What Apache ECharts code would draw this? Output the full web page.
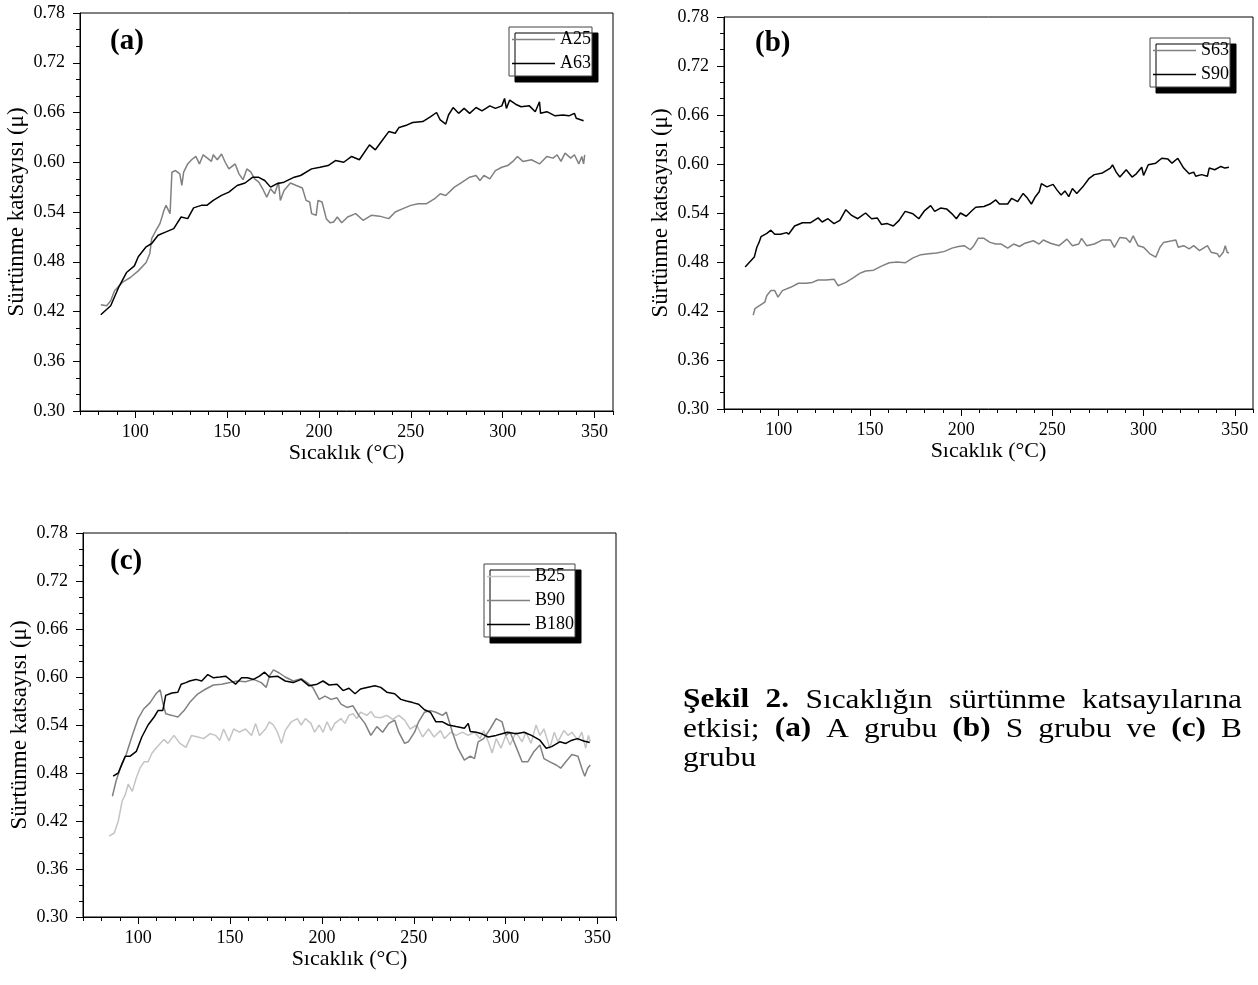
<!DOCTYPE html>
<html>
<head>
<meta charset="utf-8">
<script src="https://cdn.jsdelivr.net/npm/echarts@6/dist/echarts.min.js"></script>
<style>html,body{margin:0;padding:0;background:#fff}#c{width:1258px;height:985px}</style>
</head>
<body>
<div id="c"></div>
<script>
// ---- tick labels / axis ranges ----
const xMajorTicks = [100, 150, 200, 250, 300, 350];
const yTickStep = 0.06;
const xTitle = 'Sıcaklık (°C)';
const yTitle = 'Sürtünme katsayısı (μ)';
const panelLabels = ['(a)', '(b)', '(c)'];

// ---- panel (a) ----
const a25 = [[81.3,0.428],[84.5,0.427],[86.7,0.433],[88.8,0.445],[93,0.455],[97.4,0.461],[101.7,0.469],[106,0.479],[108,0.490],[109,0.508],[111.4,0.518],[113.5,0.526],[115.7,0.542],[116.8,0.548],[119,0.538],[120,0.588],[122,0.590],[124.3,0.586],[125.4,0.572],[126.4,0.588],[128.6,0.598],[130.7,0.603],[133,0.607],[135,0.598],[137,0.609],[139.3,0.605],[141.5,0.601],[142.5,0.609],[144.7,0.603],[147,0.610],[149,0.600],[151,0.592],[154.4,0.598],[156.5,0.586],[158.7,0.579],[160.8,0.592],[163,0.588],[165,0.580],[167.3,0.576],[169.4,0.568],[171.6,0.558],[173.7,0.568],[175.9,0.562],[178,0.576],[179,0.554],[181,0.566],[184.5,0.575],[187.7,0.572],[191,0.569],[193,0.554],[195,0.552],[196,0.538],[198.5,0.536],[199.5,0.554],[201.7,0.552],[204,0.532],[206,0.527],[208,0.528],[210,0.534],[212.4,0.527],[215.6,0.534],[220,0.538],[224,0.530],[228.5,0.536],[233,0.535],[238,0.532],[241.5,0.540],[245.7,0.544],[250,0.548],[254,0.550],[258.6,0.550],[263,0.556],[266,0.562],[269,0.560],[273.7,0.570],[278,0.576],[282,0.582],[285.5,0.584],[287.6,0.578],[289.8,0.584],[293,0.580],[296,0.590],[299.5,0.594],[302.7,0.596],[306,0.602],[308,0.607],[311,0.601],[315.6,0.603],[320,0.598],[324,0.607],[327.4,0.605],[329.6,0.609],[331.7,0.601],[333.9,0.611],[337,0.605],[339,0.609],[341.4,0.598],[343,0.607],[344,0.598],[344.6,0.609]];
const a63 = [[81.3,0.416],[86.7,0.427],[91,0.449],[95.3,0.467],[99.6,0.475],[101.7,0.486],[106,0.498],[109,0.502],[112.5,0.512],[116.8,0.516],[121,0.520],[125,0.534],[128.6,0.532],[131.8,0.545],[136,0.548],[139,0.548],[142.5,0.554],[147,0.560],[151,0.564],[155.5,0.572],[159.8,0.575],[164,0.582],[167,0.582],[170.5,0.578],[173.7,0.570],[177,0.574],[181,0.576],[186.6,0.582],[190,0.584],[196,0.592],[200.6,0.594],[205,0.596],[209,0.602],[213.5,0.600],[217.8,0.607],[222,0.603],[227.5,0.621],[230.7,0.615],[234,0.625],[238,0.637],[241.5,0.635],[243.6,0.642],[248,0.645],[251,0.648],[256.5,0.649],[260.8,0.655],[264,0.660],[266,0.651],[269,0.646],[270.5,0.657],[273,0.666],[276,0.659],[279,0.665],[282,0.659],[285.5,0.666],[288.7,0.662],[293,0.668],[296,0.665],[299.5,0.668],[301,0.677],[302,0.665],[303.8,0.675],[307,0.670],[310,0.667],[314.5,0.668],[317.7,0.661],[320,0.673],[320.6,0.659],[324,0.661],[328.5,0.656],[332.8,0.657],[336,0.656],[339,0.659],[340,0.653],[344,0.650]];

// ---- panel (b) ----
const s63 = [[86,0.415],[87,0.423],[89,0.426],[92.4,0.431],[93.5,0.439],[95.7,0.445],[97.8,0.445],[99.6,0.437],[102,0.445],[106.5,0.449],[110.8,0.454],[115,0.454],[118.4,0.455],[121.6,0.458],[126,0.458],[130.3,0.459],[132.5,0.451],[136.8,0.455],[141,0.461],[144.4,0.466],[147.6,0.469],[152,0.470],[156.3,0.475],[160.6,0.479],[165,0.480],[169.3,0.479],[173.6,0.485],[178,0.489],[182.2,0.490],[186.6,0.491],[190.9,0.493],[195,0.497],[198.5,0.499],[201.7,0.500],[205,0.495],[207,0.500],[209.3,0.509],[212.5,0.509],[215.8,0.504],[219,0.502],[222,0.502],[225.5,0.497],[228.8,0.502],[232,0.499],[235,0.503],[239.6,0.506],[242.8,0.502],[245,0.507],[249,0.503],[253.7,0.500],[258,0.508],[261,0.500],[264.5,0.502],[266,0.509],[268.8,0.500],[273,0.502],[277.5,0.507],[281.8,0.507],[284,0.498],[287,0.510],[290.5,0.509],[292.6,0.504],[294.3,0.512],[297,0.500],[300,0.498],[303.5,0.490],[306.7,0.486],[309,0.498],[311,0.504],[315.6,0.506],[317.7,0.507],[319,0.498],[322,0.500],[325,0.496],[327.5,0.500],[330.7,0.494],[335,0.500],[337,0.492],[340.5,0.490],[341.6,0.486],[343.7,0.492],[344.8,0.500],[345.8,0.492],[346.8,0.491]];
const s90 = [[81.6,0.474],[86.6,0.486],[88,0.498],[89.2,0.504],[90.3,0.511],[93.5,0.515],[95.7,0.519],[97.8,0.514],[101,0.514],[104.3,0.516],[105.4,0.514],[108.7,0.524],[113,0.528],[117.3,0.528],[121.6,0.534],[123.8,0.529],[127,0.533],[130.3,0.527],[133.5,0.531],[136.8,0.544],[140,0.537],[143.3,0.533],[147.6,0.540],[150.9,0.533],[154,0.534],[156.3,0.526],[159.5,0.527],[162.8,0.524],[166,0.531],[169.3,0.542],[173.6,0.539],[176.8,0.533],[180,0.543],[183.3,0.549],[185.5,0.542],[188.7,0.546],[192,0.545],[195,0.539],[197.4,0.533],[199.6,0.540],[202.8,0.536],[206,0.543],[208,0.547],[212.5,0.548],[215.8,0.551],[219,0.556],[221,0.551],[225.5,0.551],[227.7,0.558],[231,0.554],[234,0.564],[236.4,0.558],[238.5,0.551],[240.7,0.560],[242.8,0.566],[244,0.576],[247,0.572],[250.4,0.575],[252.6,0.568],[254.8,0.562],[256.9,0.567],[259,0.560],[261,0.570],[263.4,0.564],[266.7,0.572],[270,0.582],[273,0.587],[277.5,0.589],[281.8,0.595],[283,0.599],[285,0.590],[287,0.584],[290.5,0.593],[293.7,0.584],[296,0.588],[299,0.596],[300,0.586],[302.6,0.599],[306.7,0.601],[310,0.607],[313.4,0.606],[315.6,0.601],[318.8,0.607],[322,0.595],[325,0.588],[327.5,0.590],[328.6,0.585],[331.8,0.587],[335,0.585],[336,0.595],[339,0.593],[342.4,0.597],[344.6,0.595],[346.8,0.596]];

// ---- panel (c) ----
const b25 = [[84.2,0.401],[87,0.405],[89.2,0.420],[91.3,0.445],[93,0.453],[94.6,0.466],[96.8,0.457],[99,0.474],[101,0.486],[103.2,0.494],[105.4,0.494],[107.6,0.505],[109.7,0.511],[112,0.517],[114,0.522],[116.2,0.517],[119.5,0.527],[122.7,0.517],[126,0.512],[129,0.527],[132.5,0.525],[135.7,0.523],[139,0.529],[142.2,0.527],[144.4,0.521],[146.5,0.535],[149.4,0.520],[152,0.535],[155,0.531],[158.4,0.535],[161.7,0.527],[163.9,0.542],[166,0.527],[169.3,0.535],[171.4,0.544],[173.6,0.540],[175.8,0.531],[178,0.517],[180,0.533],[183.3,0.544],[186.6,0.548],[188.7,0.540],[191,0.548],[194,0.542],[196,0.531],[198.5,0.540],[200.6,0.531],[202.8,0.544],[205,0.533],[207,0.542],[210.4,0.548],[212.5,0.542],[214.7,0.552],[216.9,0.554],[219,0.548],[221,0.556],[224.5,0.552],[226.6,0.557],[228.8,0.550],[232,0.549],[235.3,0.552],[238.5,0.547],[241.8,0.552],[245,0.546],[248,0.535],[251.5,0.540],[254.8,0.525],[258,0.535],[261,0.525],[264.5,0.533],[266.7,0.523],[270,0.531],[273,0.527],[276.4,0.531],[279.6,0.527],[283,0.531],[286,0.523],[288,0.533],[290.5,0.519],[292.6,0.505],[294.8,0.523],[297.4,0.511],[300,0.527],[302.4,0.515],[305.6,0.531],[308.9,0.519],[311,0.531],[313.8,0.517],[316.5,0.540],[318.6,0.527],[320.8,0.535],[324,0.511],[326.4,0.531],[328.4,0.519],[331.6,0.533],[334,0.527],[336,0.531],[339.3,0.521],[341.4,0.531],[343.5,0.511],[345,0.527],[346,0.519]];
const b90 = [[86,0.451],[88,0.470],[90.3,0.486],[93.5,0.503],[96.8,0.527],[100,0.548],[103,0.560],[106.5,0.568],[109.7,0.579],[112,0.584],[113.4,0.568],[115,0.554],[118.4,0.552],[121.6,0.550],[125,0.558],[128,0.568],[132.5,0.579],[136.8,0.585],[141,0.590],[145.5,0.591],[149.8,0.593],[154,0.595],[158.4,0.594],[162.8,0.597],[167,0.593],[169.7,0.587],[171.4,0.601],[173.6,0.609],[176.8,0.605],[180,0.600],[184.4,0.595],[188.7,0.598],[192,0.593],[195,0.587],[198.5,0.572],[201.7,0.576],[205,0.572],[208.2,0.574],[210.4,0.566],[213.6,0.562],[216.9,0.564],[220,0.552],[223.4,0.542],[226.6,0.527],[229.9,0.538],[233,0.531],[236.4,0.542],[239.6,0.546],[241.8,0.531],[245,0.517],[247,0.519],[250.4,0.531],[252.6,0.544],[255.8,0.556],[259,0.558],[262,0.556],[265.6,0.552],[267.7,0.556],[271,0.531],[274,0.511],[277.5,0.496],[280.7,0.501],[283,0.498],[285,0.519],[288,0.523],[291.5,0.535],[294.8,0.548],[298,0.544],[300,0.527],[302.4,0.531],[305.6,0.513],[308.9,0.494],[312,0.494],[315.4,0.507],[318.6,0.515],[320.8,0.498],[324,0.494],[327.5,0.490],[329.9,0.486],[332.7,0.494],[336,0.503],[339.3,0.501],[341.4,0.486],[343,0.476],[344.6,0.486],[346,0.490]];
const b180 = [[86.4,0.476],[89.2,0.480],[91.3,0.492],[93,0.501],[95.7,0.501],[99,0.507],[102,0.525],[105.4,0.540],[108.7,0.550],[110.8,0.558],[113.4,0.558],[115,0.577],[118.4,0.580],[121.6,0.581],[123.4,0.591],[126,0.593],[128,0.595],[131.4,0.597],[134.6,0.595],[137.9,0.603],[141,0.599],[144.4,0.600],[147.6,0.601],[150.9,0.595],[153,0.591],[156.3,0.599],[159.5,0.599],[162.8,0.597],[166,0.601],[168.8,0.606],[171.4,0.600],[175.8,0.601],[180,0.595],[184.4,0.593],[188.7,0.597],[193,0.589],[197.4,0.591],[200.6,0.595],[203.9,0.590],[208.2,0.591],[211.5,0.583],[214.7,0.586],[218,0.579],[221,0.585],[224.5,0.587],[228.8,0.589],[232,0.587],[235.3,0.581],[239.6,0.579],[242.9,0.572],[246,0.570],[249.4,0.568],[252.6,0.566],[255.8,0.559],[259,0.556],[262,0.544],[265.6,0.544],[268.8,0.540],[273,0.538],[277.5,0.536],[279.6,0.542],[280.7,0.532],[284,0.531],[287,0.529],[290.5,0.525],[294.8,0.527],[298,0.529],[301,0.531],[305.6,0.529],[310,0.531],[314,0.527],[318.6,0.521],[322,0.511],[325,0.513],[329.4,0.519],[332.7,0.517],[336,0.521],[339,0.523],[342.4,0.520],[345.7,0.518]];

// ---- series meta ----
const seriesNames = [['A25', 'A63'], ['S63', 'S90'], ['B25', 'B90', 'B180']];
const seriesData = [[a25, a63], [s63, s90], [b25, b90, b180]];
const seriesColors = [['#808080', '#000000'], ['#808080', '#000000'], ['#c4c4c4', '#808080', '#000000']];

// ---- caption words (text, bold) ----
const captionWords = [
  [['Şekil', 1], ['2.', 1], ['Sıcaklığın', 0], ['sürtünme', 0], ['katsayılarına', 0]],
  [['etkisi;', 0], ['(a)', 1], ['A', 0], ['grubu', 0], ['(b)', 1], ['S', 0], ['grubu', 0], ['ve', 0], ['(c)', 1], ['B', 0]],
  [['grubu', 0]]
];

const FONT = 'Liberation Serif';
const grids = [
  {left: 80, top: 13, width: 533, height: 398},
  {left: 724, top: 17, width: 529, height: 392},
  {left: 83, top: 533, width: 533, height: 384}
];
const legendPos = [{left: 509, top: 27}, {left: 1150, top: 38}, {left: 484, top: 564}];
const labelPos = [{left: 110, top: 27}, {left: 755, top: 29}, {left: 110, top: 547}];

const xAxes = [], yAxes = [], series = [], legends = [], graphics = [];
grids.forEach((g, i) => {
  // minor x ticks (every 10) + axis line
  xAxes.push({
    gridIndex: i, type: 'value', min: 70, max: 360, interval: 10, position: 'bottom',
    axisLine: {show: true, lineStyle: {color: '#000', width: 1}},
    axisTick: {show: true, length: 4, lineStyle: {color: '#000'}},
    axisLabel: {show: false}, splitLine: {show: false}
  });
  // major x ticks + labels
  xAxes.push({
    gridIndex: i, type: 'value', min: 70, max: 360, position: 'bottom',
    name: xTitle, nameLocation: 'middle', nameGap: 29,
    nameTextStyle: {fontFamily: FONT, fontSize: 22, color: '#000'},
    axisLine: {show: false},
    axisTick: {show: true, length: 7, customValues: xMajorTicks, lineStyle: {color: '#000'}},
    axisLabel: {show: true, customValues: xMajorTicks, fontFamily: FONT, fontSize: 18, color: '#000', margin: 12},
    splitLine: {show: false}
  });
  yAxes.push({
    gridIndex: i, type: 'value', min: 0.30, max: 0.78, interval: yTickStep,
    name: yTitle, nameLocation: 'middle', nameGap: 52,
    nameTextStyle: {fontFamily: FONT, fontSize: 23, color: '#000'},
    axisLine: {show: true, lineStyle: {color: '#000', width: 1}},
    axisTick: {show: true, length: 7, lineStyle: {color: '#000'}},
    minorTick: {show: true, splitNumber: 3, length: 4, lineStyle: {color: '#000'}},
    axisLabel: {fontFamily: FONT, fontSize: 18, color: '#000', margin: 15, formatter: v => v.toFixed(2)},
    splitLine: {show: false}
  });
  seriesNames[i].forEach((nm, k) => {
    series.push({
      name: nm, type: 'line', xAxisIndex: i * 2, yAxisIndex: i,
      data: seriesData[i][k], symbol: 'none', showSymbol: false, smooth: false,
      lineStyle: {color: seriesColors[i][k], width: 1.5}, itemStyle: {color: seriesColors[i][k]},
      animation: false
    });
  });
  legends.push({
    data: seriesNames[i], orient: 'vertical', left: legendPos[i].left, top: legendPos[i].top,
    align: 'left', icon: 'rect', itemWidth: 43, itemHeight: 1.5, itemGap: 5,
    padding: [3, 1, 3, 3],
    backgroundColor: '#fff', borderColor: '#444', borderWidth: 1,
    shadowColor: '#000', shadowBlur: 0, shadowOffsetX: 6, shadowOffsetY: 6,
    textStyle: {fontFamily: FONT, fontSize: 18, color: '#000', lineHeight: 19},
    selectedMode: false
  });
  graphics.push({
    type: 'text', left: labelPos[i].left, top: labelPos[i].top,
    style: {text: panelLabels[i], font: 'bold 29px "Liberation Serif"', fill: '#000'}
  });
});

// caption: justified lines, glyphs slightly widened as in the reference
const capFont = 27, capSX = 1.16, capLeft = 683, capTop = 687, capLineH = 29, capWidth = 559;
const mctx = document.createElement('canvas').getContext('2d');
function wWidth(t, b) {
  mctx.font = (b ? 'bold ' : '') + capFont + 'px "Liberation Serif"';
  return mctx.measureText(t).width * capSX;
}
captionWords.forEach((words, j) => {
  const widths = words.map(w => wWidth(w[0], w[1]));
  const total = widths.reduce((s, v) => s + v, 0);
  const last = j === captionWords.length - 1;
  const gap = (last || words.length < 2) ? wWidth(' ', 0) : (capWidth - total) / (words.length - 1);
  let x = capLeft;
  words.forEach((w, k) => {
    graphics.push({
      type: 'text', x: x, y: capTop + j * capLineH, scaleX: capSX, scaleY: 1,
      style: {text: w[0], x: 0, y: 0, align: 'left', verticalAlign: 'top',
              font: (w[1] ? 'bold ' : '') + capFont + 'px "Liberation Serif"', fill: '#000'}
    });
    x += widths[k] + gap;
  });
});

const chart = echarts.init(document.getElementById('c'), null, {renderer: 'canvas'});
chart.setOption({
  animation: false,
  backgroundColor: '#fff',
  grid: grids.map(g => Object.assign({show: true, borderColor: '#000', borderWidth: 1, backgroundColor: 'transparent', containLabel: false}, g)),
  xAxis: xAxes, yAxis: yAxes, series: series, legend: legends, graphic: graphics
});
</script>
</body>
</html>
